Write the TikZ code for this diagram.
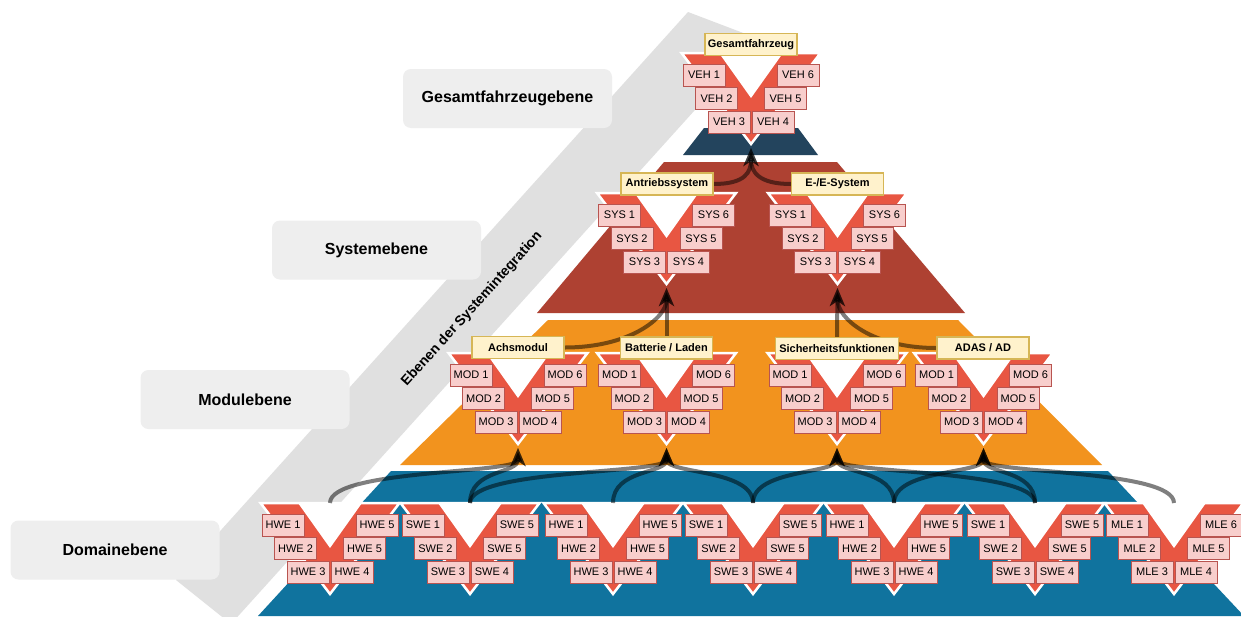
\documentclass[tikz,border=0pt]{standalone}
\usepackage{fontspec}
\setmainfont{Liberation Sans}
\usetikzlibrary{arrows.meta}

\definecolor{vred}{HTML}{E85642}
\definecolor{cellfill}{HTML}{F8CECC}
\definecolor{celldraw}{HTML}{B85450}
\definecolor{tagfill}{HTML}{FFF2CC}
\definecolor{tagdraw}{HTML}{D6B656}
\definecolor{lvnavy}{HTML}{23445D}
\definecolor{lvred}{HTML}{AE4132}
\definecolor{lvorange}{HTML}{F2931E}
\definecolor{lvblue}{HTML}{10739E}
\definecolor{bandgrey}{HTML}{E0E0E0}
\definecolor{tabfill}{HTML}{EEEEEE}

\pgfdeclarelayer{back}
\pgfdeclarelayer{edges}
\pgfsetlayers{back,edges,main}

\tikzset{
  vcell/.style={fill=cellfill, draw=celldraw, line width=1pt, minimum width=42pt,
    minimum height=22pt, inner sep=0pt, font=\fontsize{11}{13}\selectfont},
  vtag/.style={fill=tagfill, draw=tagdraw, line width=1.2pt, minimum width=92pt,
    minimum height=22pt, inner sep=0pt, font=\fontsize{11}{13}\selectfont\bfseries},
  leveltab/.style={fill=tabfill, rounded corners=8pt, minimum width=209pt,
    minimum height=59pt, inner sep=0pt, font=\fontsize{16}{19}\selectfont\bfseries},
  linkarrow/.style={draw=black, opacity=0.5, line width=4pt,
    -{Stealth[length=18pt,width=15pt,inset=5pt]}},
  veeshape/.style={fill=vred, draw=white, line width=2.5pt, line join=miter},
}

% V-shaped block: name, centre x, top y, six element labels
\newcommand\vblock[9]{%
  \path[veeshape] (#2-69.5,#3) -- (#2+69.5,#3) -- (#2,#3+91) -- cycle;
  \fill[white] (#2-32,#3) -- (#2+32,#3) -- (#2,#3+45) -- cycle;
  \node[vcell] (#1-1) at (#2-47,#3+22) {#4};
  \node[vcell] (#1-2) at (#2-34.5,#3+45.5) {#5};
  \node[vcell] (#1-3) at (#2-22,#3+69) {#6};
  \node[vcell] (#1-4) at (#2+22,#3+69) {#7};
  \node[vcell] (#1-5) at (#2+34.5,#3+45.5) {#8};
  \node[vcell] (#1-6) at (#2+47,#3+22) {#9};
  \coordinate (#1-top) at (#2,#3);
  \coordinate (#1-in) at (#2,#3+95);
}

\begin{document}
\begin{tikzpicture}[x=1pt,y=-1pt]
\useasboundingbox (0,0) rectangle (1241,616);

\begin{pgfonlayer}{back}
  \fill[white] (0,0) rectangle (1241,616);
  % diagonal integration band
  \fill[bandgrey] (688,12) -- (759,39) -- (231,624) -- (176,580) -- cycle;
  \node[rotate=47.9, font=\fontsize{14}{17}\selectfont\bfseries] (band-title) at (472,309)
    {Ebenen der Systemintegration};

  % level tabs
  \node[leveltab] (tab-veh) at (507.5,98.5) {Gesamtfahrzeugebene};
  \node[leveltab] (tab-sys) at (376.5,250) {Systemebene};
  \node[leveltab] (tab-mod) at (245,399.5) {Modulebene};
  \node[leveltab] (tab-dom) at (115,550) {Domainebene};

  % pyramid slices
  \fill[lvnavy] (683,155) -- (818,155) -- (798,128) -- (704,128) -- cycle;
  \fill[lvred] (537,313) -- (965,313) -- (837,162) -- (664,162) -- cycle;
  \fill[lvorange] (400,465) -- (1102,465) -- (958,320) -- (548,320) -- cycle;
  \fill[lvblue] (258,616) -- (1244,616) -- (1108,471) -- (391,471) -- cycle;

  % vehicle level
  \vblock{veh}{751}{53}{VEH 1}{VEH 2}{VEH 3}{VEH 4}{VEH 5}{VEH 6}
  % system level
  \vblock{antrieb}{666.5}{193}{SYS 1}{SYS 2}{SYS 3}{SYS 4}{SYS 5}{SYS 6}
  \vblock{ee}{837.5}{193}{SYS 1}{SYS 2}{SYS 3}{SYS 4}{SYS 5}{SYS 6}
  % module level
  \vblock{achs}{518}{353}{MOD 1}{MOD 2}{MOD 3}{MOD 4}{MOD 5}{MOD 6}
  \vblock{batt}{666.5}{353}{MOD 1}{MOD 2}{MOD 3}{MOD 4}{MOD 5}{MOD 6}
  \vblock{sich}{837}{353}{MOD 1}{MOD 2}{MOD 3}{MOD 4}{MOD 5}{MOD 6}
  \vblock{adas}{983.5}{353}{MOD 1}{MOD 2}{MOD 3}{MOD 4}{MOD 5}{MOD 6}
  % domain level
  \vblock{hwea}{330}{503}{HWE 1}{HWE 2}{HWE 3}{HWE 4}{HWE 5}{HWE 5}
  \vblock{swea}{470}{503}{SWE 1}{SWE 2}{SWE 3}{SWE 4}{SWE 5}{SWE 5}
  \vblock{hweb}{613}{503}{HWE 1}{HWE 2}{HWE 3}{HWE 4}{HWE 5}{HWE 5}
  \vblock{sweb}{753}{503}{SWE 1}{SWE 2}{SWE 3}{SWE 4}{SWE 5}{SWE 5}
  \vblock{hwec}{894}{503}{HWE 1}{HWE 2}{HWE 3}{HWE 4}{HWE 5}{HWE 5}
  \vblock{swec}{1035}{503}{SWE 1}{SWE 2}{SWE 3}{SWE 4}{SWE 5}{SWE 5}
  \vblock{mle}{1174}{503}{MLE 1}{MLE 2}{MLE 3}{MLE 4}{MLE 5}{MLE 6}
\end{pgfonlayer}

% element titles
\node[vtag] (veh-tag) at (751,44.5) {Gesamtfahrzeug};
\node[vtag] (antrieb-tag) at (667,184) {Antriebssystem};
\node[vtag] (ee-tag) at (837.5,184) {E-/E-System};
\node[vtag] (achs-tag) at (518,347.5) {Achsmodul};
\node[vtag] (batt-tag) at (666.5,348) {Batterie / Laden};
\node[vtag, minimum width=123pt] (sich-tag) at (837,348.5) {Sicherheitsfunktionen};
\node[vtag] (adas-tag) at (983,348) {ADAS / AD};

\begin{pgfonlayer}{edges}
  % systems into the vehicle
  \draw[linkarrow] (antrieb-tag.east) .. controls +(32,0) and +(0,24) .. (veh-in);
  \draw[linkarrow] (ee-tag.west) .. controls +(-32,0) and +(0,24) .. (veh-in);
  % modules into systems
  \draw[linkarrow] (achs-tag.east) .. controls +(65,0) and +(0,30) .. (antrieb-in);
  \draw[linkarrow] (batt-tag.north) -- (antrieb-in);
  \draw[linkarrow] (sich-tag.north) -- (ee-in);
  \draw[linkarrow] (adas-tag.west) .. controls +(-65,0) and +(0,30) .. (ee-in);
  % domains into modules
  \draw[linkarrow] (hwea-top) .. controls +(0,-34) and +(0,26) .. (achs-in);
  \draw[linkarrow] (swea-top) .. controls +(0,-34) and +(0,26) .. (achs-in);
  \draw[linkarrow] (swea-top) .. controls +(0,-34) and +(0,26) .. (batt-in);
  \draw[linkarrow] (hweb-top) .. controls +(0,-34) and +(0,26) .. (batt-in);
  \draw[linkarrow] (sweb-top) .. controls +(0,-34) and +(0,26) .. (batt-in);
  \draw[linkarrow] (sweb-top) .. controls +(0,-34) and +(0,26) .. (sich-in);
  \draw[linkarrow] (hwec-top) .. controls +(0,-34) and +(0,26) .. (sich-in);
  \draw[linkarrow] (hwec-top) .. controls +(0,-34) and +(0,26) .. (adas-in);
  \draw[linkarrow] (swec-top) .. controls +(0,-34) and +(0,26) .. (adas-in);
  \draw[linkarrow] (swec-top) .. controls +(0,-34) and +(0,26) .. (sich-in);
  \draw[linkarrow] (mle-top) .. controls +(0,-34) and +(0,26) .. (adas-in);
\end{pgfonlayer}
\end{tikzpicture}
\end{document}
